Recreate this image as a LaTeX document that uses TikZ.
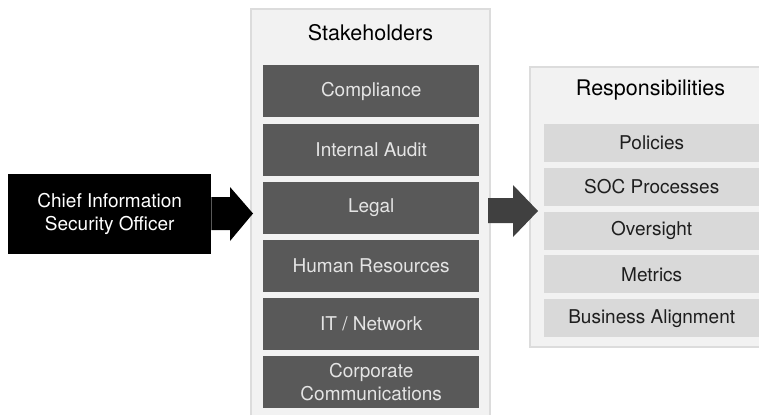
\documentclass[tikz,border=0pt]{standalone}
\usepackage{fontspec}
\setmainfont{TeX Gyre Heros}
\definecolor{panelfill}{HTML}{F2F2F2}
\definecolor{panelline}{HTML}{DCDCDC}
\definecolor{darkbox}{HTML}{595959}
\definecolor{darktext}{HTML}{E4E4E4}
\definecolor{lightbox}{HTML}{D9D9D9}
\definecolor{lighttext}{HTML}{1E1E1E}
\definecolor{midarrow}{HTML}{404040}
\tikzset{
  darkitem/.style={fill=darkbox, text=darktext, minimum width=216pt, minimum height=52pt, inner sep=0pt, align=center, anchor=north west, font=\fontsize{19}{22.5}\selectfont},
  lightitem/.style={fill=lightbox, text=lighttext, minimum width=215pt, minimum height=38pt, inner sep=0pt, align=center, anchor=north west, font=\fontsize{19}{22.5}\selectfont},
  paneltitle/.style={text=black, font=\fontsize{21.5}{25}\selectfont, inner sep=0pt}
}
\begin{document}
\begin{tikzpicture}[x=1pt,y=-1pt]
\useasboundingbox (0,0) rectangle (759,415);
\fill[white] (0,0) rectangle (759,415);
% Stakeholders panel
\fill[panelfill] (251,9) rectangle (490,415);
\draw[panelline, line width=2pt] (251,415) -- (251,9) -- (490,9) -- (490,415);
\node[paneltitle] (stake) at (370.5,33) {Stakeholders};
\node[darkitem] (s1) at (263,65) {Compliance};
\node[darkitem] (s2) at (263,123.5) {Internal Audit};
\node[darkitem] (s3) at (263,181.5) {Legal};
\node[darkitem] (s4) at (263,240) {Human Resources};
\node[darkitem] (s5) at (263,298) {IT / Network};
\node[darkitem] (s6) at (263,356) {Corporate\\Communications};
% Responsibilities panel
\fill[panelfill] (530,67) rectangle (759,347);
\draw[panelline, line width=2pt] (759,67) -- (530,67) -- (530,347) -- (759,347);
\node[paneltitle] (resp) at (650.5,90) {Responsibilities};
\node[lightitem] (r1) at (544,124) {Policies};
\node[lightitem] (r2) at (544,167.75) {SOC Processes};
\node[lightitem] (r3) at (544,211.5) {Oversight};
\node[lightitem] (r4) at (544,255.25) {Metrics};
\node[lightitem] (r5) at (544,299) {Business Alignment};
% CISO
\node[fill=black, text=white, minimum width=203pt, minimum height=80pt, inner sep=0pt, align=center, anchor=north west, font=\fontsize{19}{23}\selectfont] (ciso) at (8,174) {Chief Information\\Security Officer};
\fill[black] (ciso.east |- 0,197) -- (230,197) -- (230,187) -- (253,213.5) -- (230,241) -- (230,230) -- (ciso.east |- 0,230) -- cycle;
% middle arrow
\fill[midarrow] (488,198) -- (513,198) -- (513,185) -- (538,211) -- (513,237) -- (513,223) -- (488,223) -- cycle;
\end{tikzpicture}
\end{document}
